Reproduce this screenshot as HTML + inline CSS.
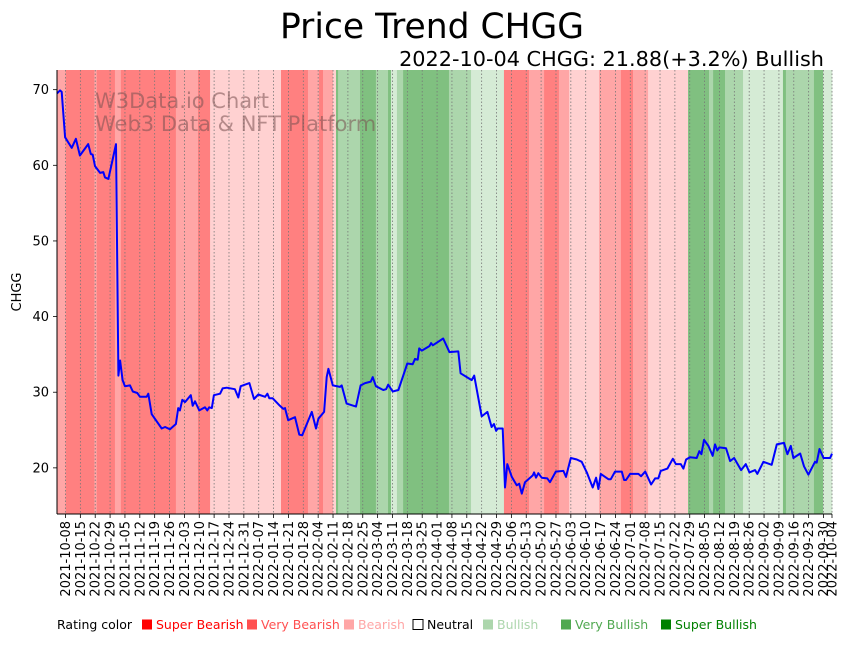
<!DOCTYPE html>
<html><head><meta charset="utf-8"><style>
body{margin:0;background:#fff;width:851px;height:641px;overflow:hidden;font-family:"DejaVu Sans","Liberation Sans",sans-serif}
svg text{font-family:"DejaVu Sans","Liberation Sans",sans-serif}
</style></head><body>
<svg id="chart" width="851" height="641" xmlns="http://www.w3.org/2000/svg">
<text x="432" y="38" font-size="34.5" text-anchor="middle" fill="#000">Price Trend CHGG</text>
<text x="824" y="66" font-size="20.8" text-anchor="end" fill="#000">2022-10-04 CHGG: 21.88(+3.2%) Bullish</text>
<g id="bands"></g>
<g id="grid"></g>
<text x="95" y="108" font-size="21" fill="rgba(120,80,80,0.55)">W3Data.io Chart</text>
<text x="95" y="131" font-size="21" fill="rgba(120,80,80,0.55)">Web3 Data &amp; NFT Platform</text>
<g id="line"></g>
<g id="axes"></g>
<text transform="translate(21,292) rotate(-90)" font-size="13" text-anchor="middle">CHGG</text>
<g id="legend" font-size="12.5"></g>
</svg>
<script>
const startDate = new Date(Date.UTC(2021,9,4));
const totalDays = 365;
const yMin = 13.9, yMax = 72.6;
const yTicks = [20,30,40,50,60,70];
const dayOffsets = [0,1.4,2.2,3.8,6.9,8.9,10.8,14.7,15.9,16.8,17.9,20.3,21.8,22.6,24.2,27.8,28.9,29.7,30.9,32,34.4,35.7,37.8,39.1,42.2,43,44.6,49.3,50.9,53.2,56,57.1,57.9,59,60.3,63,63.9,65,67,69.7,70.8,71.7,72.9,73.9,76.8,78,79.9,83.8,85.4,86.5,90.6,92.8,94.8,98,99.1,100,101.6,105,106.6,107.4,108.9,112.1,114.1,115.5,120,122,123.1,125.8,127,127.8,129.9,133.3,134.1,136.4,140.8,143,145.1,147.8,148.7,150.2,153.7,155,156,158.1,160.8,165,167.5,168.6,169.9,170.6,171.8,175.4,176.2,177,181.9,184.8,189,190.1,195.3,196.5,200,202.7,204.7,205.8,206.8,207.6,209.9,211,212.1,214.2,216.5,217.7,218.9,220.4,224.1,224.7,225.6,226.7,228.3,230.9,232.2,234.9,238.5,239.7,242,244.8,247.1,249.5,252.3,253.9,255,256.1,259.7,260.8,262.8,266,267.1,268,269.9,273.8,275.1,277,279.8,281.7,283.2,284.3,287.5,290,291.5,293.8,295,296.3,298.1,301.3,302.5,303.5,304.7,306.8,308.8,309.9,311,311.9,315.1,317,318.9,322.2,324.4,326.1,328.8,329.8,332.7,336.6,339,342.4,344,345.6,346.8,350,351.8,353.9,357,357.8,359.1,361,364.1,365];
const prices = [69.5,69.9,69.7,63.7,62.3,63.5,61.3,62.8,61.5,61.4,59.9,59.0,59.1,58.4,58.2,62.8,32.2,34.2,31.6,30.8,30.9,30.1,29.9,29.4,29.4,29.8,27.1,25.2,25.4,25.1,25.8,27.9,27.6,29.0,28.7,29.6,28.2,28.8,27.6,28.0,27.6,28.0,27.9,29.6,29.8,30.5,30.6,30.4,29.3,30.8,31.2,29.1,29.7,29.4,29.8,29.2,29.2,28.2,27.8,27.9,26.3,26.7,24.4,24.3,27.4,25.2,26.5,27.4,32.0,33.1,30.9,30.7,30.9,28.5,28.1,30.9,31.2,31.4,32.0,30.8,30.3,30.4,31.0,30.1,30.3,33.8,33.7,34.4,34.3,35.8,35.5,36.1,36.5,36.2,37.1,35.3,35.4,32.5,31.6,32.2,26.8,27.4,25.4,25.8,24.9,25.2,25.2,17.4,20.5,18.8,17.7,17.9,16.6,18.1,19.0,19.4,18.7,19.3,18.7,18.6,18.1,19.5,19.6,18.8,21.3,21.1,20.8,19.4,17.4,18.7,17.2,19.2,18.5,18.5,19.5,19.5,18.4,18.4,19.2,19.2,18.9,19.5,17.8,18.6,18.6,19.6,19.9,21.2,20.5,20.5,19.9,21.1,21.4,21.3,22.2,21.8,23.7,22.9,21.6,23.1,22.3,22.7,22.6,20.9,21.3,19.7,20.5,19.4,19.7,19.2,20.8,20.4,23.1,23.3,21.8,22.9,21.3,21.9,20.2,19.1,20.8,20.7,22.5,21.3,21.3,21.88];
const bandStart = [0,4.1,17.6,18.7,27.3,30.1,56,66.4,72.1,105.5,118.2,123.4,125.3,130,131.4,132.4,142.7,150.2,155.9,157.3,160.1,163,184.6,195,210.5,222.3,229.4,236.4,241.2,255.3,256.7,265.6,271.3,278.4,297.2,307.1,309,314.6,323.1,341.9,343.3,356.5,360.8];
const bandEnd   = [4.1,17.6,18.7,27.3,30.1,56,66.4,72.1,105.5,118.2,123.4,125.3,130,131.4,132.4,142.7,150.2,155.9,157.3,160.1,163,184.6,195,210.5,222.3,229.4,236.4,241.2,255.3,256.7,265.6,271.3,278.4,297.2,307.1,309,314.6,323.1,341.9,343.3,356.5,360.8,365];
const bandRating = [-2,-3,-2,-3,-2,-3,-2,-3,-1,-3,-2,-3,-2,-1,3,2,3,2,3,1,2,3,2,1,-3,-2,-3,-2,-1,-2,-2,-3,-2,-1,3,2,3,2,1,3,2,3,1];
const legendLabels = ["Super Bearish","Very Bearish","Bearish","Neutral","Bullish","Very Bullish","Super Bullish"];

const L=57,R=832,T=70,B=514;
const NS="http://www.w3.org/2000/svg";
const xs=d=>L+(d/totalDays)*(R-L);
const ys=v=>B-(v-yMin)/(yMax-yMin)*(B-T);
const bandColor={"-3":"#ff8080","-2":"#ffa6a6","-1":"#ffd1d1","1":"#d5ebd5","2":"#acd6ac","3":"#80c080"};
function mk(tag,attrs,parent){const e=document.createElementNS(NS,tag);for(const k in attrs)e.setAttribute(k,attrs[k]);parent.appendChild(e);return e;}

const gb=document.getElementById('bands');
for(let i=0;i<bandStart.length;i++){
  const r=mk('rect',{x:xs(bandStart[i]),y:T,width:Math.max(0,xs(bandEnd[i])-xs(bandStart[i]))+0.3,height:B-T,fill:bandColor[bandRating[i]]},gb);
  
  
}
const tickDays=[];
for(let d=4;d<=361;d+=7)tickDays.push(d);
tickDays.push(365);
const gg=document.getElementById('grid');
const ga=document.getElementById('axes');
function fmt(d){const dt=new Date(startDate.getTime()+d*86400000);return dt.toISOString().slice(0,10);}
tickDays.forEach(d=>{
  const x=xs(d);
  const gl=mk('line',{x1:x,x2:x,y1:T,y2:B,stroke:'#777','stroke-width':0.8,'stroke-dasharray':'1.5,2'},gg);
  
  
  mk('line',{x1:x,x2:x,y1:B,y2:B+4,stroke:'#000','stroke-width':0.8},ga);
  const t=mk('text',{transform:`translate(${x+4.5},${B+7}) rotate(-90)`,'font-size':13,'text-anchor':'end'},ga);
  t.textContent=fmt(d);
  
  
});
yTicks.forEach(v=>{
  const y=ys(v);
  mk('line',{x1:L-4,x2:L,y1:y,y2:y,stroke:'#000','stroke-width':0.8},ga);
  const t=mk('text',{x:L-8,y:y+4.5,'font-size':13,'text-anchor':'end'},ga);
  t.textContent=v;
  
  
});
mk('line',{x1:L,x2:L,y1:T,y2:B,stroke:'#000','stroke-width':1},ga);
mk('line',{x1:L,x2:R,y1:B,y2:B,stroke:'#000','stroke-width':1},ga);

const pl=mk('polyline',{points:dayOffsets.map((d,i)=>xs(d).toFixed(1)+','+ys(prices[i]).toFixed(1)).join(' '),fill:'none',stroke:'#0000ff','stroke-width':2,'stroke-linejoin':'round'},document.getElementById('line'));



const lg=document.getElementById('legend');
const legColors=["#ff0000","#ff5050","#ffa6a6","#fff","#acd6ac","#50a850","#008000"];
const legText=["#ff0000","#ff5050","#ffa6a6","#000","#acd6ac","#50a850","#008000"];
const legX=[142,247,344,413,483,561,661];
const lt=mk('text',{x:57,y:629,fill:'#000'},lg);lt.textContent='Rating color';


legendLabels.forEach((s,i)=>{
  const r=mk('rect',{x:legX[i],y:619.5,width:10,height:10,fill:legColors[i],stroke:i===3?'#000':'none','stroke-width':1},lg);
  
  
  const t=mk('text',{x:legX[i]+14,y:629,fill:legText[i]},lg);t.textContent=s;
  
  
});
</script>
</body></html>
